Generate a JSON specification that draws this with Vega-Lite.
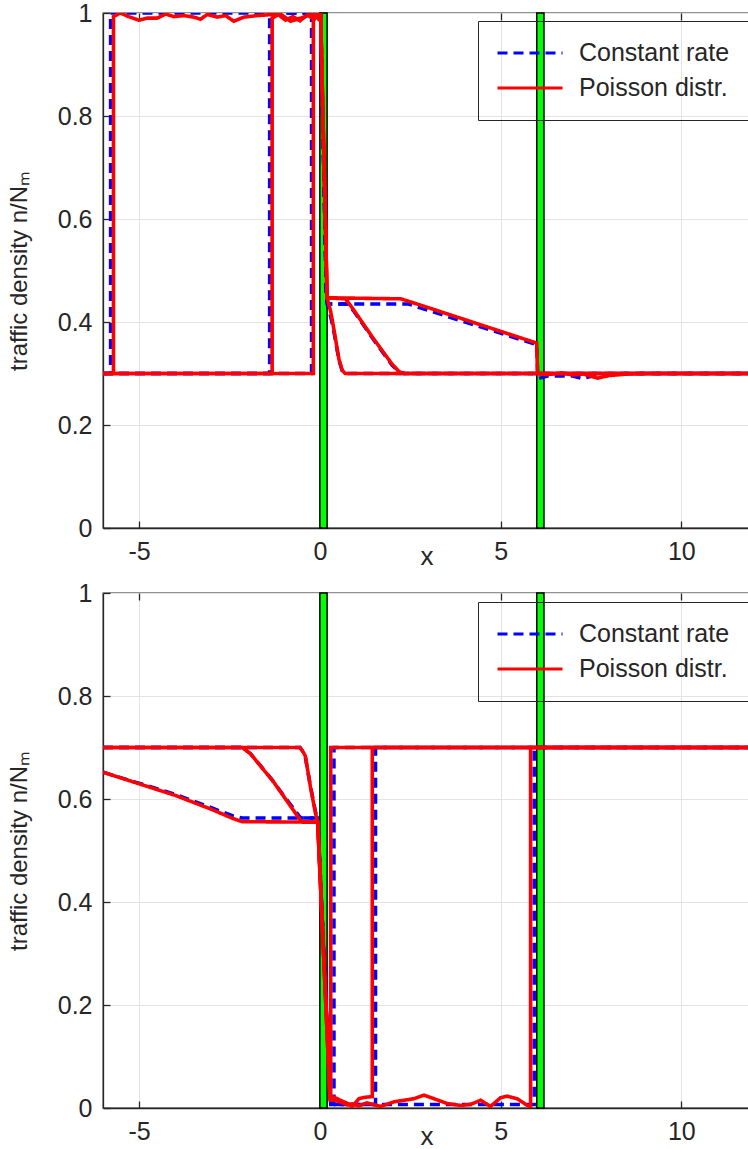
{
  "$schema": "https://vega.github.io/schema/vega-lite/v6.json",
  "background": "white",
  "padding": {"left": 6, "top": 0, "right": 0, "bottom": 0},
  "config": {
    "font": "Liberation Sans",
    "view": {"stroke": "#262626", "strokeWidth": 1.3},
    "concat": {"spacing": 10},
    "axis": {
      "labelFont": "Liberation Sans", "labelFontSize": 25, "labelColor": "#262626",
      "titleFont": "Liberation Sans", "titleFontWeight": "normal", "titleColor": "#262626",
      "grid": true, "gridColor": "#e3e3e3", "gridWidth": 1,
      "domainColor": "#262626", "domainWidth": 1.3,
      "tickColor": "#262626", "tickSize": -7, "tickWidth": 1.3
    },
    "legend": {
      "title": null, "symbolType": "stroke", "symbolSize": 4225, "symbolStrokeWidth": 3,
      "clipHeight": 28, "rowPadding": 7, "labelOffset": 15, "padding": 18,
      "strokeColor": "#262626", "labelFontSize": 25, "labelFont": "Liberation Sans", "labelColor": "#262626"
    }
  },
  "datasets": {
    "bands": [{"x0": 0, "x1": 0.2}, {"x0": 6, "x1": 6.2}],
    "top": [
      {"s":"C","k":1,"x":-6,"y":0.3},{"s":"C","k":1,"x":-0.23,"y":0.3},{"s":"C","k":1,"x":-0.23,"y":1.0},{"s":"C","k":1,"x":0.02,"y":1.0},{"s":"C","k":1,"x":0.18,"y":0.45},{"s":"C","k":1,"x":0.21,"y":0.435},{"s":"C","k":1,"x":0.3,"y":0.41},{"s":"C","k":1,"x":0.39,"y":0.38},{"s":"C","k":1,"x":0.53,"y":0.325},{"s":"C","k":1,"x":0.62,"y":0.305},{"s":"C","k":1,"x":0.7,"y":0.3},{"s":"C","k":1,"x":12,"y":0.3},
      {"s":"C","k":2,"x":-6,"y":0.3},{"s":"C","k":2,"x":-1.39,"y":0.3},{"s":"C","k":2,"x":-1.39,"y":1.0},{"s":"C","k":2,"x":0.02,"y":1.0},{"s":"C","k":2,"x":0.18,"y":0.45},{"s":"C","k":2,"x":0.21,"y":0.435},{"s":"C","k":2,"x":0.78,"y":0.435},{"s":"C","k":2,"x":0.95,"y":0.42},{"s":"C","k":2,"x":1.49,"y":0.365},{"s":"C","k":2,"x":2.0,"y":0.316},{"s":"C","k":2,"x":2.2,"y":0.302},{"s":"C","k":2,"x":2.35,"y":0.3},{"s":"C","k":2,"x":12,"y":0.3},
      {"s":"C","k":3,"x":-6,"y":0.3},{"s":"C","k":3,"x":-5.79,"y":0.3},{"s":"C","k":3,"x":-5.79,"y":1.0},{"s":"C","k":3,"x":0.02,"y":1.0},{"s":"C","k":3,"x":0.18,"y":0.45},{"s":"C","k":3,"x":0.21,"y":0.435},{"s":"C","k":3,"x":2.45,"y":0.435},{"s":"C","k":3,"x":2.75,"y":0.428},{"s":"C","k":3,"x":6.0,"y":0.356},{"s":"C","k":3,"x":6.03,"y":0.29},{"s":"C","k":3,"x":6.3,"y":0.295},{"s":"C","k":3,"x":7.0,"y":0.295},{"s":"C","k":3,"x":7.26,"y":0.29},{"s":"C","k":3,"x":7.6,"y":0.296},{"s":"C","k":3,"x":8.0,"y":0.299},{"s":"C","k":3,"x":8.6,"y":0.3},{"s":"C","k":3,"x":12,"y":0.3},
      {"s":"P","k":1,"x":-6,"y":0.3},{"s":"P","k":1,"x":-0.18,"y":0.3},{"s":"P","k":1,"x":-0.18,"y":0.99},{"s":"P","k":1,"x":-0.12,"y":0.998},{"s":"P","k":1,"x":-0.05,"y":0.99},{"s":"P","k":1,"x":0.02,"y":1.0},{"s":"P","k":1,"x":0.2,"y":0.447},{"s":"P","k":1,"x":0.3,"y":0.42},{"s":"P","k":1,"x":0.39,"y":0.385},{"s":"P","k":1,"x":0.53,"y":0.327},{"s":"P","k":1,"x":0.62,"y":0.306},{"s":"P","k":1,"x":0.7,"y":0.3},{"s":"P","k":1,"x":12,"y":0.3},
      {"s":"P","k":2,"x":-6,"y":0.3},{"s":"P","k":2,"x":-1.32,"y":0.3},{"s":"P","k":2,"x":-1.32,"y":0.99},{"s":"P","k":2,"x":-1.15,"y":0.997},{"s":"P","k":2,"x":-0.95,"y":0.986},{"s":"P","k":2,"x":-0.75,"y":0.993},{"s":"P","k":2,"x":-0.55,"y":0.985},{"s":"P","k":2,"x":-0.35,"y":0.996},{"s":"P","k":2,"x":-0.15,"y":0.988},{"s":"P","k":2,"x":0.02,"y":1.0},{"s":"P","k":2,"x":0.2,"y":0.447},{"s":"P","k":2,"x":0.71,"y":0.445},{"s":"P","k":2,"x":0.9,"y":0.427},{"s":"P","k":2,"x":1.49,"y":0.367},{"s":"P","k":2,"x":2.0,"y":0.318},{"s":"P","k":2,"x":2.2,"y":0.303},{"s":"P","k":2,"x":2.35,"y":0.3},{"s":"P","k":2,"x":12,"y":0.3},
      {"s":"P","k":3,"x":-6,"y":0.3},{"s":"P","k":3,"x":-5.71,"y":0.3},{"s":"P","k":3,"x":-5.71,"y":0.993},{"s":"P","k":3,"x":-5.52,"y":1.0},{"s":"P","k":3,"x":-5.29,"y":0.993},{"s":"P","k":3,"x":-5.01,"y":0.986},{"s":"P","k":3,"x":-4.78,"y":0.99},{"s":"P","k":3,"x":-4.5,"y":0.99},{"s":"P","k":3,"x":-4.27,"y":0.998},{"s":"P","k":3,"x":-4.04,"y":0.993},{"s":"P","k":3,"x":-3.76,"y":0.995},{"s":"P","k":3,"x":-3.49,"y":0.992},{"s":"P","k":3,"x":-3.3,"y":0.988},{"s":"P","k":3,"x":-3.12,"y":0.997},{"s":"P","k":3,"x":-2.84,"y":0.992},{"s":"P","k":3,"x":-2.61,"y":0.995},{"s":"P","k":3,"x":-2.38,"y":0.984},{"s":"P","k":3,"x":-2.1,"y":0.992},{"s":"P","k":3,"x":-1.73,"y":0.995},{"s":"P","k":3,"x":-1.32,"y":0.997},{"s":"P","k":3,"x":-1.09,"y":0.998},{"s":"P","k":3,"x":-0.81,"y":0.984},{"s":"P","k":3,"x":-0.53,"y":0.99},{"s":"P","k":3,"x":-0.21,"y":0.998},{"s":"P","k":3,"x":0.02,"y":1.0},{"s":"P","k":3,"x":0.2,"y":0.447},{"s":"P","k":3,"x":2.24,"y":0.445},{"s":"P","k":3,"x":2.6,"y":0.437},{"s":"P","k":3,"x":6.0,"y":0.359},{"s":"P","k":3,"x":6.02,"y":0.3},{"s":"P","k":3,"x":6.3,"y":0.298},{"s":"P","k":3,"x":6.7,"y":0.301},{"s":"P","k":3,"x":7.0,"y":0.297},{"s":"P","k":3,"x":7.3,"y":0.299},{"s":"P","k":3,"x":7.68,"y":0.291},{"s":"P","k":3,"x":8.0,"y":0.296},{"s":"P","k":3,"x":8.5,"y":0.299},{"s":"P","k":3,"x":9.0,"y":0.3},{"s":"P","k":3,"x":12,"y":0.3}
    ],
    "bot": [
      {"s":"C","k":1,"x":-6,"y":0.7},{"s":"C","k":1,"x":-0.55,"y":0.7},{"s":"C","k":1,"x":-0.45,"y":0.69},{"s":"C","k":1,"x":-0.4,"y":0.68},{"s":"C","k":1,"x":-0.26,"y":0.625},{"s":"C","k":1,"x":-0.12,"y":0.575},{"s":"C","k":1,"x":-0.06,"y":0.563},{"s":"C","k":1,"x":0.3,"y":0.007},{"s":"C","k":1,"x":0.39,"y":0.007},{"s":"C","k":1,"x":0.39,"y":0.7},{"s":"C","k":1,"x":12,"y":0.7},
      {"s":"C","k":2,"x":-6,"y":0.7},{"s":"C","k":2,"x":-2.15,"y":0.7},{"s":"C","k":2,"x":-1.92,"y":0.688},{"s":"C","k":2,"x":-1.55,"y":0.657},{"s":"C","k":2,"x":-1.32,"y":0.637},{"s":"C","k":2,"x":-1.09,"y":0.615},{"s":"C","k":2,"x":-0.55,"y":0.565},{"s":"C","k":2,"x":-0.5,"y":0.563},{"s":"C","k":2,"x":-0.06,"y":0.563},{"s":"C","k":2,"x":0.3,"y":0.007},{"s":"C","k":2,"x":1.54,"y":0.007},{"s":"C","k":2,"x":1.54,"y":0.7},{"s":"C","k":2,"x":12,"y":0.7},
      {"s":"C","k":3,"x":-6,"y":0.652},{"s":"C","k":3,"x":-4,"y":0.609},{"s":"C","k":3,"x":-3,"y":0.583},{"s":"C","k":3,"x":-2.4,"y":0.567},{"s":"C","k":3,"x":-2.15,"y":0.563},{"s":"C","k":3,"x":-0.06,"y":0.563},{"s":"C","k":3,"x":0.3,"y":0.007},{"s":"C","k":3,"x":5.93,"y":0.007},{"s":"C","k":3,"x":5.93,"y":0.7},{"s":"C","k":3,"x":12,"y":0.7},
      {"s":"P","k":1,"x":-6,"y":0.7},{"s":"P","k":1,"x":-0.55,"y":0.7},{"s":"P","k":1,"x":-0.45,"y":0.69},{"s":"P","k":1,"x":-0.4,"y":0.683},{"s":"P","k":1,"x":-0.26,"y":0.623},{"s":"P","k":1,"x":-0.12,"y":0.572},{"s":"P","k":1,"x":-0.06,"y":0.556},{"s":"P","k":1,"x":0.28,"y":0.02},{"s":"P","k":1,"x":0.3,"y":0.012},{"s":"P","k":1,"x":0.3,"y":0.7},{"s":"P","k":1,"x":12,"y":0.7},
      {"s":"P","k":2,"x":-6,"y":0.7},{"s":"P","k":2,"x":-2.15,"y":0.7},{"s":"P","k":2,"x":-1.92,"y":0.688},{"s":"P","k":2,"x":-1.55,"y":0.656},{"s":"P","k":2,"x":-1.32,"y":0.637},{"s":"P","k":2,"x":-1.09,"y":0.614},{"s":"P","k":2,"x":-0.55,"y":0.56},{"s":"P","k":2,"x":-0.49,"y":0.556},{"s":"P","k":2,"x":-0.06,"y":0.555},{"s":"P","k":2,"x":0.28,"y":0.02},{"s":"P","k":2,"x":0.39,"y":0.021},{"s":"P","k":2,"x":0.57,"y":0.015},{"s":"P","k":2,"x":0.76,"y":0.009},{"s":"P","k":2,"x":0.9,"y":0.003},{"s":"P","k":2,"x":1.08,"y":0.018},{"s":"P","k":2,"x":1.26,"y":0.021},{"s":"P","k":2,"x":1.45,"y":0.022},{"s":"P","k":2,"x":1.45,"y":0.7},{"s":"P","k":2,"x":12,"y":0.7},
      {"s":"P","k":3,"x":-6,"y":0.652},{"s":"P","k":3,"x":-4,"y":0.607},{"s":"P","k":3,"x":-3,"y":0.58},{"s":"P","k":3,"x":-2.4,"y":0.562},{"s":"P","k":3,"x":-2.15,"y":0.556},{"s":"P","k":3,"x":-0.06,"y":0.555},{"s":"P","k":3,"x":0.28,"y":0.02},{"s":"P","k":3,"x":0.39,"y":0.015},{"s":"P","k":3,"x":0.57,"y":0.012},{"s":"P","k":3,"x":0.76,"y":0.006},{"s":"P","k":3,"x":0.9,"y":0.008},{"s":"P","k":3,"x":1.08,"y":0.004},{"s":"P","k":3,"x":1.3,"y":0.01},{"s":"P","k":3,"x":1.68,"y":0.003},{"s":"P","k":3,"x":2.05,"y":0.012},{"s":"P","k":3,"x":2.42,"y":0.016},{"s":"P","k":3,"x":2.6,"y":0.018},{"s":"P","k":3,"x":2.88,"y":0.025},{"s":"P","k":3,"x":3.16,"y":0.018},{"s":"P","k":3,"x":3.53,"y":0.0085},{"s":"P","k":3,"x":3.89,"y":0.005},{"s":"P","k":3,"x":4.17,"y":0.007},{"s":"P","k":3,"x":4.45,"y":0.015},{"s":"P","k":3,"x":4.72,"y":0.003},{"s":"P","k":3,"x":5.0,"y":0.02},{"s":"P","k":3,"x":5.19,"y":0.023},{"s":"P","k":3,"x":5.46,"y":0.018},{"s":"P","k":3,"x":5.74,"y":0.005},{"s":"P","k":3,"x":5.83,"y":0.003},{"s":"P","k":3,"x":5.83,"y":0.7},{"s":"P","k":3,"x":12,"y":0.7}
    ]
  },
  "resolve": {"scale": {"color": "independent", "strokeDash": "independent"}},
  "vconcat": [
    {
      "width": 647, "height": 515,
      "resolve": {"scale": {"x": "independent"}, "axis": {"x": "independent"}},
      "layer": [
        {
          "data": {"name": "bands"},
          "mark": {"type": "rect", "fill": "#00ff00", "stroke": "#000000", "strokeWidth": 1.5},
          "encoding": {
            "x": {"field": "x0", "type": "quantitative", "scale": {"domain": [-6, 11.9], "nice": false, "zero": false},
                  "axis": {"values": [-5, 0, 5, 10], "labelExpr": "'' + datum.value", "title": "x", "titleFontSize": 26, "titleBaseline": "alphabetic", "titleY": 36, "labelPadding": 18}},
            "x2": {"field": "x1"},
            "y": {"datum": 0, "type": "quantitative", "scale": {"domain": [0, 1], "nice": false},
                  "axis": {"values": [0, 0.2, 0.4, 0.6, 0.8, 1], "format": "~g", "title": "traffic density n/Nₘ", "titleFontSize": 24, "titleBaseline": "middle", "titleX": -84, "labelPadding": 18}},
            "y2": {"datum": 1}
          }
        },
        {
          "data": {"name": "top"},
          "transform": [{"filter": "datum.s == 'C'"}],
          "mark": {"type": "line", "strokeWidth": 3.5, "clip": true},
          "encoding": {
            "x": {"field": "x", "type": "quantitative", "scale": {"domain": [-6, 11.9], "nice": false, "zero": false}, "axis": null},
            "y": {"field": "y", "type": "quantitative"},
            "detail": {"field": "k"},
            "order": {"value": null},
            "color": {"field": "s", "type": "nominal", "scale": {"domain": ["C", "P"], "range": ["#0000ff", "#ff0000"]},
                      "legend": {"orient": "none", "legendX": 375, "legendY": 8, "labelExpr": "datum.label == 'C' ? 'Constant rate' : 'Poisson distr.'"}},
            "strokeDash": {"field": "s", "type": "nominal", "scale": {"domain": ["C", "P"], "range": [[10, 6], [1, 0]]},
                      "legend": {"orient": "none", "legendX": 375, "legendY": 8, "labelExpr": "datum.label == 'C' ? 'Constant rate' : 'Poisson distr.'"}}
          }
        },
        {
          "data": {"name": "top"},
          "transform": [{"filter": "datum.s == 'P'"}],
          "mark": {"type": "line", "strokeWidth": 3.6, "clip": true},
          "encoding": {
            "x": {"field": "x", "type": "quantitative", "scale": {"domain": [-6, 11.9], "nice": false, "zero": false},
                  "axis": {"orient": "top", "values": [-5, 0, 5, 10], "labels": false, "title": null, "grid": false, "domain": false}},
            "y": {"field": "y", "type": "quantitative"},
            "detail": {"field": "k"},
            "order": {"value": null},
            "color": {"field": "s", "type": "nominal"},
            "strokeDash": {"field": "s", "type": "nominal"}
          }
        }
      ]
    },
    {
      "width": 647, "height": 515,
      "resolve": {"scale": {"x": "independent"}, "axis": {"x": "independent"}},
      "layer": [
        {
          "data": {"name": "bands"},
          "mark": {"type": "rect", "fill": "#00ff00", "stroke": "#000000", "strokeWidth": 1.5},
          "encoding": {
            "x": {"field": "x0", "type": "quantitative", "scale": {"domain": [-6, 11.9], "nice": false, "zero": false},
                  "axis": {"values": [-5, 0, 5, 10], "labelExpr": "'' + datum.value", "title": "x", "titleFontSize": 26, "titleBaseline": "alphabetic", "titleY": 36, "labelPadding": 18}},
            "x2": {"field": "x1"},
            "y": {"datum": 0, "type": "quantitative", "scale": {"domain": [0, 1], "nice": false},
                  "axis": {"values": [0, 0.2, 0.4, 0.6, 0.8, 1], "format": "~g", "title": "traffic density n/Nₘ", "titleFontSize": 24, "titleBaseline": "middle", "titleX": -84, "labelPadding": 18}},
            "y2": {"datum": 1}
          }
        },
        {
          "data": {"name": "bot"},
          "transform": [{"filter": "datum.s == 'C'"}],
          "mark": {"type": "line", "strokeWidth": 3.5, "clip": true},
          "encoding": {
            "x": {"field": "x", "type": "quantitative", "scale": {"domain": [-6, 11.9], "nice": false, "zero": false}, "axis": null},
            "y": {"field": "y", "type": "quantitative"},
            "detail": {"field": "k"},
            "order": {"value": null},
            "color": {"field": "s", "type": "nominal", "scale": {"domain": ["C", "P"], "range": ["#0000ff", "#ff0000"]},
                      "legend": {"orient": "none", "legendX": 375, "legendY": 9, "labelExpr": "datum.label == 'C' ? 'Constant rate' : 'Poisson distr.'"}},
            "strokeDash": {"field": "s", "type": "nominal", "scale": {"domain": ["C", "P"], "range": [[10, 6], [1, 0]]},
                      "legend": {"orient": "none", "legendX": 375, "legendY": 9, "labelExpr": "datum.label == 'C' ? 'Constant rate' : 'Poisson distr.'"}}
          }
        },
        {
          "data": {"name": "bot"},
          "transform": [{"filter": "datum.s == 'P'"}],
          "mark": {"type": "line", "strokeWidth": 3.6, "clip": true},
          "encoding": {
            "x": {"field": "x", "type": "quantitative", "scale": {"domain": [-6, 11.9], "nice": false, "zero": false},
                  "axis": {"orient": "top", "values": [-5, 0, 5, 10], "labels": false, "title": null, "grid": false, "domain": false}},
            "y": {"field": "y", "type": "quantitative"},
            "detail": {"field": "k"},
            "order": {"value": null},
            "color": {"field": "s", "type": "nominal"},
            "strokeDash": {"field": "s", "type": "nominal"}
          }
        }
      ]
    }
  ]
}
